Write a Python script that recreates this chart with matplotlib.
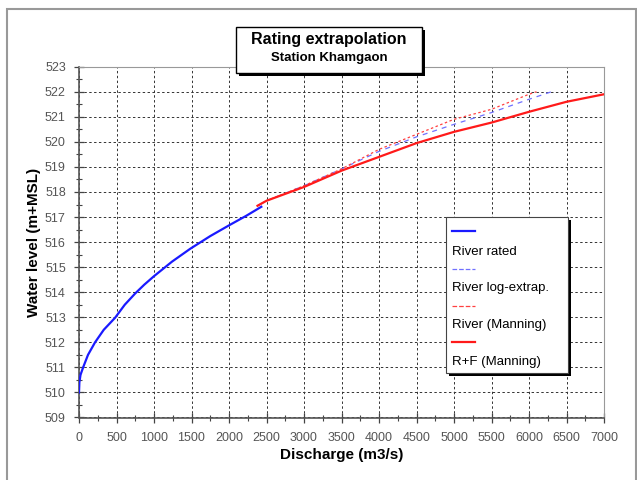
import matplotlib
matplotlib.use("Agg")
import matplotlib.pyplot as plt
from matplotlib.patches import Rectangle
from matplotlib.lines import Line2D
from matplotlib.ticker import MultipleLocator

plt.rcParams['font.family'] = ['Liberation Sans', 'DejaVu Sans']

# data
q_rated = [0, 5, 20, 55, 120, 214, 330, 481, 610, 749, 870, 1000, 1240, 1486, 1750,
           2019, 2230, 2431]
h_rated = [510.0, 510.4, 510.7, 511.0, 511.5, 512.0, 512.5, 512.98, 513.5, 513.95, 514.3,
           514.64, 515.22, 515.74, 516.24, 516.7, 517.05, 517.41]

q_log = [2380, 2500, 3000, 3500, 4000, 4500, 5000, 5500, 6000, 6300]
h_log = [517.45, 517.65, 518.25, 518.92, 519.62, 520.2, 520.7, 521.17, 521.7, 522.0]

q_river = [2380, 2500, 3000, 3500, 4000, 4500, 5000, 5500, 6000, 6100]
h_river = [517.45, 517.65, 518.25, 518.92, 519.7, 520.3, 520.9, 521.3, 521.9, 522.0]

q_rf = [2380, 2500, 3000, 3500, 4000, 4500, 5000, 5500, 6000, 6500, 7000]
h_rf = [517.45, 517.65, 518.2, 518.85, 519.4, 519.95, 520.4, 520.77, 521.2, 521.6, 521.9]

labels = ['River rated', 'River log-extrap.', 'River (Manning)', 'R+F (Manning)']

W, H = 637, 480
fig = plt.figure(figsize=(W / 100, H / 100), dpi=100)


def px(x, y):
    return x / W, 1 - y / H


# outer frame
fig.patches.append(Rectangle(px(7, 490), (636 - 7) / W, (490 - 9) / H,
                             transform=fig.transFigure, fill=False,
                             edgecolor='#999999', linewidth=1.5))

ax = fig.add_axes([79 / W, 1 - 417.5 / H, (604 - 79) / W, (417.5 - 66.7) / H])

l1, = ax.plot(q_rated, h_rated, color='#1a1aff', lw=1.6, zorder=5)
l2, = ax.plot(q_log, h_log, color='#7070ff', lw=0.9, ls=(0, (4, 4)), zorder=4)
l3, = ax.plot(q_river, h_river, color='#ff4040', lw=0.9, ls=(0, (2, 2)), zorder=4)
l4, = ax.plot(q_rf, h_rf, color='#ff1a1a', lw=1.6, zorder=5)

ax.set_xlim(0, 7000)
ax.set_ylim(509, 523)
ax.xaxis.set_major_locator(MultipleLocator(500))
ax.xaxis.set_minor_locator(MultipleLocator(250))
ax.yaxis.set_major_locator(MultipleLocator(1))
ax.yaxis.set_minor_locator(MultipleLocator(0.5))
ax.grid(True, which='major', color='#333333', ls=(0, (2.5, 2.5)), lw=0.7)
ax.tick_params(which='major', direction='inout', length=7, width=0.9, color='#444444',
               labelsize=9, labelcolor='#555555')
ax.tick_params(which='minor', direction='inout', length=5, width=0.8, color='#444444')
ax.tick_params(axis='x', which='major', pad=7)
ax.tick_params(axis='y', which='major', pad=6)
for s in ['top', 'right']:
    ax.spines[s].set_color('#999999')
for s in ['left', 'bottom']:
    ax.spines[s].set_color('#555555')
    ax.spines[s].set_linewidth(1.2)

ax.set_xlabel('Discharge (m3/s)', fontsize=11, fontweight='bold', labelpad=3)
ax.set_ylabel('Water level (m+MSL)', fontsize=11, fontweight='bold', labelpad=3)

# title box with shadow
bx0, by0, bx1, by1 = 236, 26.7, 421.7, 73.3
fig.patches.append(Rectangle(px(bx0 + 3, by1 + 3), (bx1 - bx0) / W, (by1 - by0) / H,
                             transform=fig.transFigure, facecolor='black',
                             edgecolor='none', zorder=10))
fig.patches.append(Rectangle(px(bx0, by1), (bx1 - bx0) / W, (by1 - by0) / H,
                             transform=fig.transFigure, facecolor='white',
                             edgecolor='black', lw=1.0, zorder=11))
fig.text(*px((bx0 + bx1) / 2, 39.5), 'Rating extrapolation', ha='center', va='center',
         fontsize=11.5, fontweight='bold', zorder=12)
fig.text(*px((bx0 + bx1) / 2, 58.5), 'Station Khamgaon', ha='center', va='center',
         fontsize=9.5, fontweight='bold', zorder=12)

# legend box with shadow, key line above each label
lx0, ly0, lx1, ly1 = 446, 217.3, 568.3, 372.7
fig.patches.append(Rectangle(px(lx0 + 3, ly1 + 3), (lx1 - lx0) / W, (ly1 - ly0) / H,
                             transform=fig.transFigure, facecolor='black',
                             edgecolor='none', zorder=10))
fig.patches.append(Rectangle(px(lx0, ly1), (lx1 - lx0) / W, (ly1 - ly0) / H,
                             transform=fig.transFigure, facecolor='white',
                             edgecolor='#444444', lw=0.8, zorder=11))
key_y = [231, 269.3, 306, 341.7]
text_y = [251.7, 288.3, 325, 361.7]
for handle, lab, ky, ty in zip([l1, l2, l3, l4], labels, key_y, text_y):
    xa, ya = px(452, ky)
    xb, _ = px(475, ky)
    fig.lines.append(Line2D([xa, xb], [ya, ya], transform=fig.transFigure,
                            color=handle.get_color(), lw=handle.get_linewidth(),
                            ls=handle.get_linestyle(), zorder=12))
    fig.text(*px(452, ty), lab, ha='left', va='center', fontsize=9.5, zorder=12)

fig.savefig('out.png', dpi=100)
